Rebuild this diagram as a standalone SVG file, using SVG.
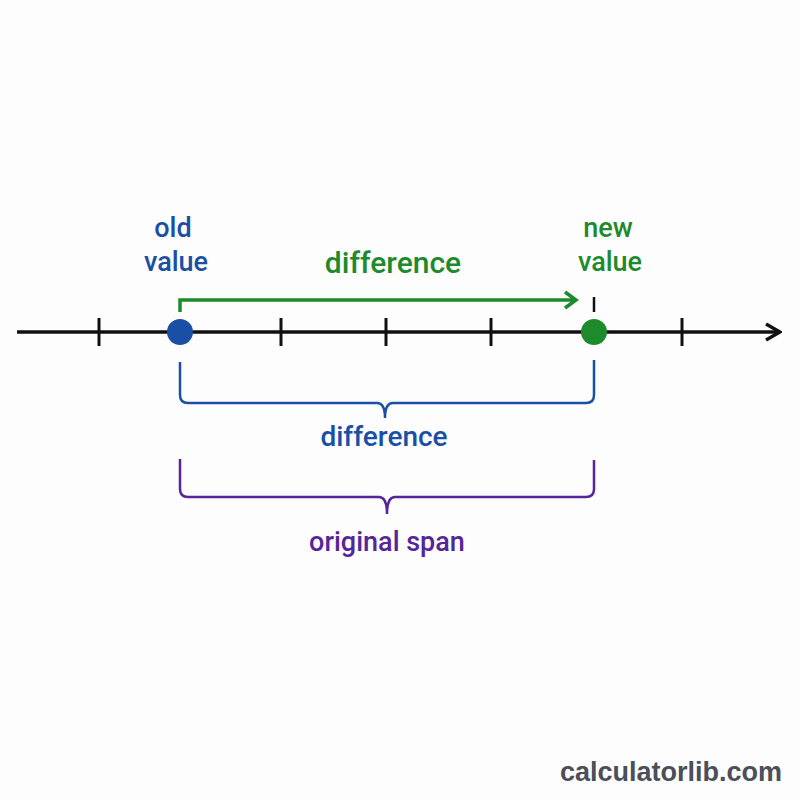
<svg xmlns="http://www.w3.org/2000/svg" width="800" height="800" viewBox="0 0 800 800">
<style>
text{font-family:Roboto,"Liberation Sans",sans-serif;font-weight:500;text-anchor:middle}
.blue{fill:#1a4fa6}.green{fill:#1d8a2c}.purple{fill:#56259a}
.tick{stroke:#111;stroke-width:3}
</style>
<defs>
<marker id="chev" viewBox="0 0 20 20" refX="18" refY="10" markerWidth="20" markerHeight="20" markerUnits="userSpaceOnUse" orient="auto">
<path d="M4,2 L18,10 L4,18" fill="none" stroke="#111" stroke-width="3.5"/>
</marker>
<marker id="gchev" viewBox="0 0 20 20" refX="17" refY="10" markerWidth="20" markerHeight="20" markerUnits="userSpaceOnUse" orient="auto">
<path d="M6,2 L17,10 L6,18" fill="none" stroke="#1d8a2c" stroke-width="3.5"/>
</marker>
</defs>
<rect width="800" height="800" fill="#fdfdfd"/>
<g id="axis">
<line x1="17" y1="332" x2="780" y2="332" stroke="#111" stroke-width="3.5" marker-end="url(#chev)"/>
<line class="tick" x1="99" y1="318" x2="99" y2="346"/>
<line class="tick" x1="281" y1="318" x2="281" y2="346"/>
<line class="tick" x1="386" y1="318" x2="386" y2="346"/>
<line class="tick" x1="491" y1="318" x2="491" y2="346"/>
<line class="tick" x1="682" y1="318" x2="682" y2="346"/>
</g>
<g id="connectors">
<path d="M180,312 V300 H576" fill="none" stroke="#1d8a2c" stroke-width="3.5" marker-end="url(#gchev)"/>
<line x1="594" y1="297" x2="594" y2="312" stroke="#111" stroke-width="2.5"/>
<path d="M180,362 V395 Q180,403 188,403 H377 Q385,403 385,418 Q385,403 393,403 H586 Q594,403 594,395 V360" fill="none" stroke="#1a4fa6" stroke-width="2.5"/>
<path d="M180,459 V489 Q180,497 188,497 H379 Q387,497 387,514 Q387,497 395,497 H586 Q594,497 594,489 V460" fill="none" stroke="#56259a" stroke-width="2.5"/>
</g>
<g id="old">
<circle cx="180" cy="332" r="13" fill="#1a4fa6"/>
<text class="blue" font-size="27" x="173" y="237">old</text>
<text class="blue" font-size="27" x="176" y="271">value</text>
</g>
<g id="new">
<circle cx="594" cy="332" r="13" fill="#1d8a2c"/>
<text class="green" font-size="27" x="608" y="237">new</text>
<text class="green" font-size="27" x="610" y="271">value</text>
</g>
<g id="diff-green"><text class="green" font-size="30" x="393" y="273">difference</text></g>
<g id="diff-blue"><text class="blue" font-size="28" x="384" y="446">difference</text></g>
<g id="span"><text class="purple" font-size="27" x="387" y="551">original span</text></g>
<text x="671" y="781" font-size="27" fill="#4a4f59" style="font-family:'Liberation Sans',Arial,sans-serif;font-weight:700">calculatorlib.com</text>
</svg>
